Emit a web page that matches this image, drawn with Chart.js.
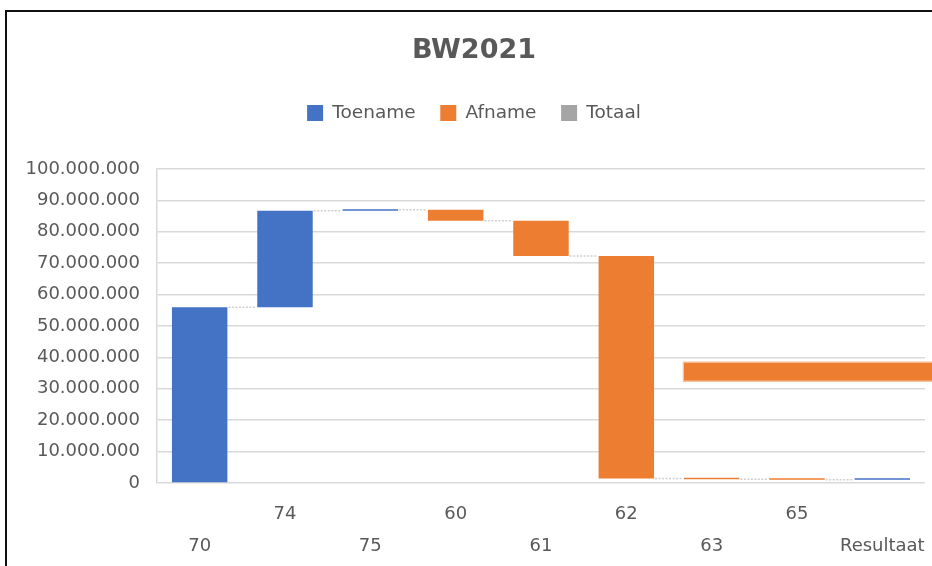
<!DOCTYPE html>
<html>
<head>
<meta charset="utf-8">
<script src="https://cdn.jsdelivr.net/npm/chart.js@4.4.1/dist/chart.umd.min.js"></script>
<style>
  html, body { margin: 0; padding: 0; background: #fff; }
  #wrap { position: relative; width: 932px; height: 566px; overflow: hidden; }
  #frame { position: absolute; left: 5px; top: 10px; width: 940px; height: 570px;
           border-left: 2px solid #111; border-top: 2px solid #111; pointer-events: none; }
  canvas { position: absolute; left: 0; top: 0; }
</style>
</head>
<body>
<div id="wrap">
  <canvas id="chart" width="932" height="566"></canvas>
  <div id="frame"></div>
</div>
<script>
// waterfall steps
const categories = ['70', '74', '75', '60', '61', '62', '63', '65', 'Resultaat'];
const changes = [56000000, 30700000, 300000, -3500000, -11200000, -70900000, -200000, -200000, 400000];
const seriesNames = ['Toename', 'Afname', 'Totaal'];
const seriesColors = ['#4472C4', '#ED7D31', '#A5A5A5'];
const yTicks = [0, 10000000, 20000000, 30000000, 40000000, 50000000, 60000000, 70000000, 80000000, 90000000, 100000000];
// the orange strip that runs from column 63 off the right edge
const stripRange = [32300000, 38600000];
const stripFrom = '63';

const FONT = "'DejaVu Sans', sans-serif";
const TEXT = '#595959';
const GRID = '#D9D9D9';
const PAD_LEFT = 22;

// build floating bars from the running total
let level = 0;
const rises = [], falls = [], levels = [];
changes.forEach(c => {
  const start = level;
  level += c;
  rises.push(c >= 0 ? [start, level] : null);
  falls.push(c < 0 ? [level, start] : null);
  levels.push(level);
});

function fmt(v) {
  return String(Math.round(v)).replace(/\B(?=(\d{3})+(?!\d))/g, '.');
}

function barAt(chart, i) {
  const meta = chart.getDatasetMeta(changes[i] >= 0 ? 0 : 1);
  return meta.data[i];
}

// push the plot area down under the legend
const legendGap = {
  id: 'legendGap',
  beforeInit(chart) {
    const fit = chart.legend.fit;
    chart.legend.fit = function() {
      fit.bind(chart.legend)();
      this.height = 89.85;
    };
  }
};

// dotted connectors between steps
const connectors = {
  id: 'connectors',
  afterDatasetsDraw(chart) {
    const ctx = chart.ctx;
    const y = chart.scales.y;
    ctx.save();
    ctx.strokeStyle = '#CFCFCF';
    ctx.lineWidth = 1.5;
    ctx.setLineDash([2, 1.5]);
    for (let i = 0; i < categories.length - 1; i++) {
      const a = barAt(chart, i), b = barAt(chart, i + 1);
      const py = y.getPixelForValue(levels[i]);
      ctx.beginPath();
      ctx.moveTo(a.x + a.width / 2 + 1, py);
      ctx.lineTo(b.x - b.width / 2 - 1, py);
      ctx.stroke();
    }
    ctx.restore();
  }
};

// orange strip
const strip = {
  id: 'strip',
  afterDatasetsDraw(chart) {
    const ctx = chart.ctx;
    const y = chart.scales.y;
    const bar = barAt(chart, categories.indexOf(stripFrom));
    const x0 = bar.x - bar.width / 2 - 1;
    const top = y.getPixelForValue(stripRange[1]);
    const bottom = y.getPixelForValue(stripRange[0]);
    ctx.save();
    ctx.fillStyle = seriesColors[1];
    ctx.fillRect(x0, top, chart.width - x0 + 2, bottom - top);
    ctx.strokeStyle = '#F8CBAD';
    ctx.lineWidth = 1;
    ctx.strokeRect(x0 + 0.5, top + 0.5, chart.width - x0 + 2, bottom - top - 1);
    ctx.restore();
  }
};

const ctx = document.getElementById('chart').getContext('2d');
const chart = new Chart(ctx, {
  type: 'bar',
  data: {
    labels: categories,
    datasets: [
      { label: seriesNames[0], data: rises, backgroundColor: seriesColors[0] },
      { label: seriesNames[1], data: falls, backgroundColor: seriesColors[1] },
      { label: seriesNames[2], data: categories.map(() => null), backgroundColor: seriesColors[2] }
    ]
  },
  options: {
    responsive: false,
    animation: false,
    layout: { padding: { left: PAD_LEFT, right: 6, top: 0, bottom: 0 } },
    datasets: {
      bar: { grouped: false, barPercentage: 0.65, categoryPercentage: 1, minBarLength: 1.5 }
    },
    plugins: {
      title: {
        display: true,
        text: 'BW2021',
        color: TEXT,
        font: { family: FONT, size: 27, weight: 'bold' },
        padding: { top: 35, bottom: 11.75 }
      },
      legend: {
        labels: {
          boxWidth: 16,
          boxHeight: 16,
          padding: 24.6,
          color: TEXT,
          font: { family: FONT, size: 18.5 }
        }
      },
      tooltip: { enabled: false }
    },
    scales: {
      x: {
        grid: { display: false },
        border: { display: false },
        ticks: {
          autoSkip: false,
          maxRotation: 0,
          padding: 7,
          color: TEXT,
          font: { family: FONT, size: 18, lineHeight: 1.78 },
          callback: function(v, i) {
            const t = categories[i];
            return i % 2 === 0 ? ['', t] : [t, ''];
          }
        },
        afterFit: function(s) { s.height = 83; }
      },
      y: {
        min: yTicks[0],
        max: yTicks[yTicks.length - 1],
        grid: { color: GRID, lineWidth: 1.5, drawTicks: false },
        border: { color: GRID, width: 1.5 },
        afterBuildTicks: function(s) { s.ticks = yTicks.map(v => ({ value: v })); },
        ticks: {
          padding: 17,
          color: TEXT,
          font: { family: FONT, size: 18 },
          callback: v => fmt(v)
        },
        afterFit: function(s) { s.width = 157 - PAD_LEFT; }
      }
    }
  },
  plugins: [legendGap, connectors, strip]
});
</script>
</body>
</html>
